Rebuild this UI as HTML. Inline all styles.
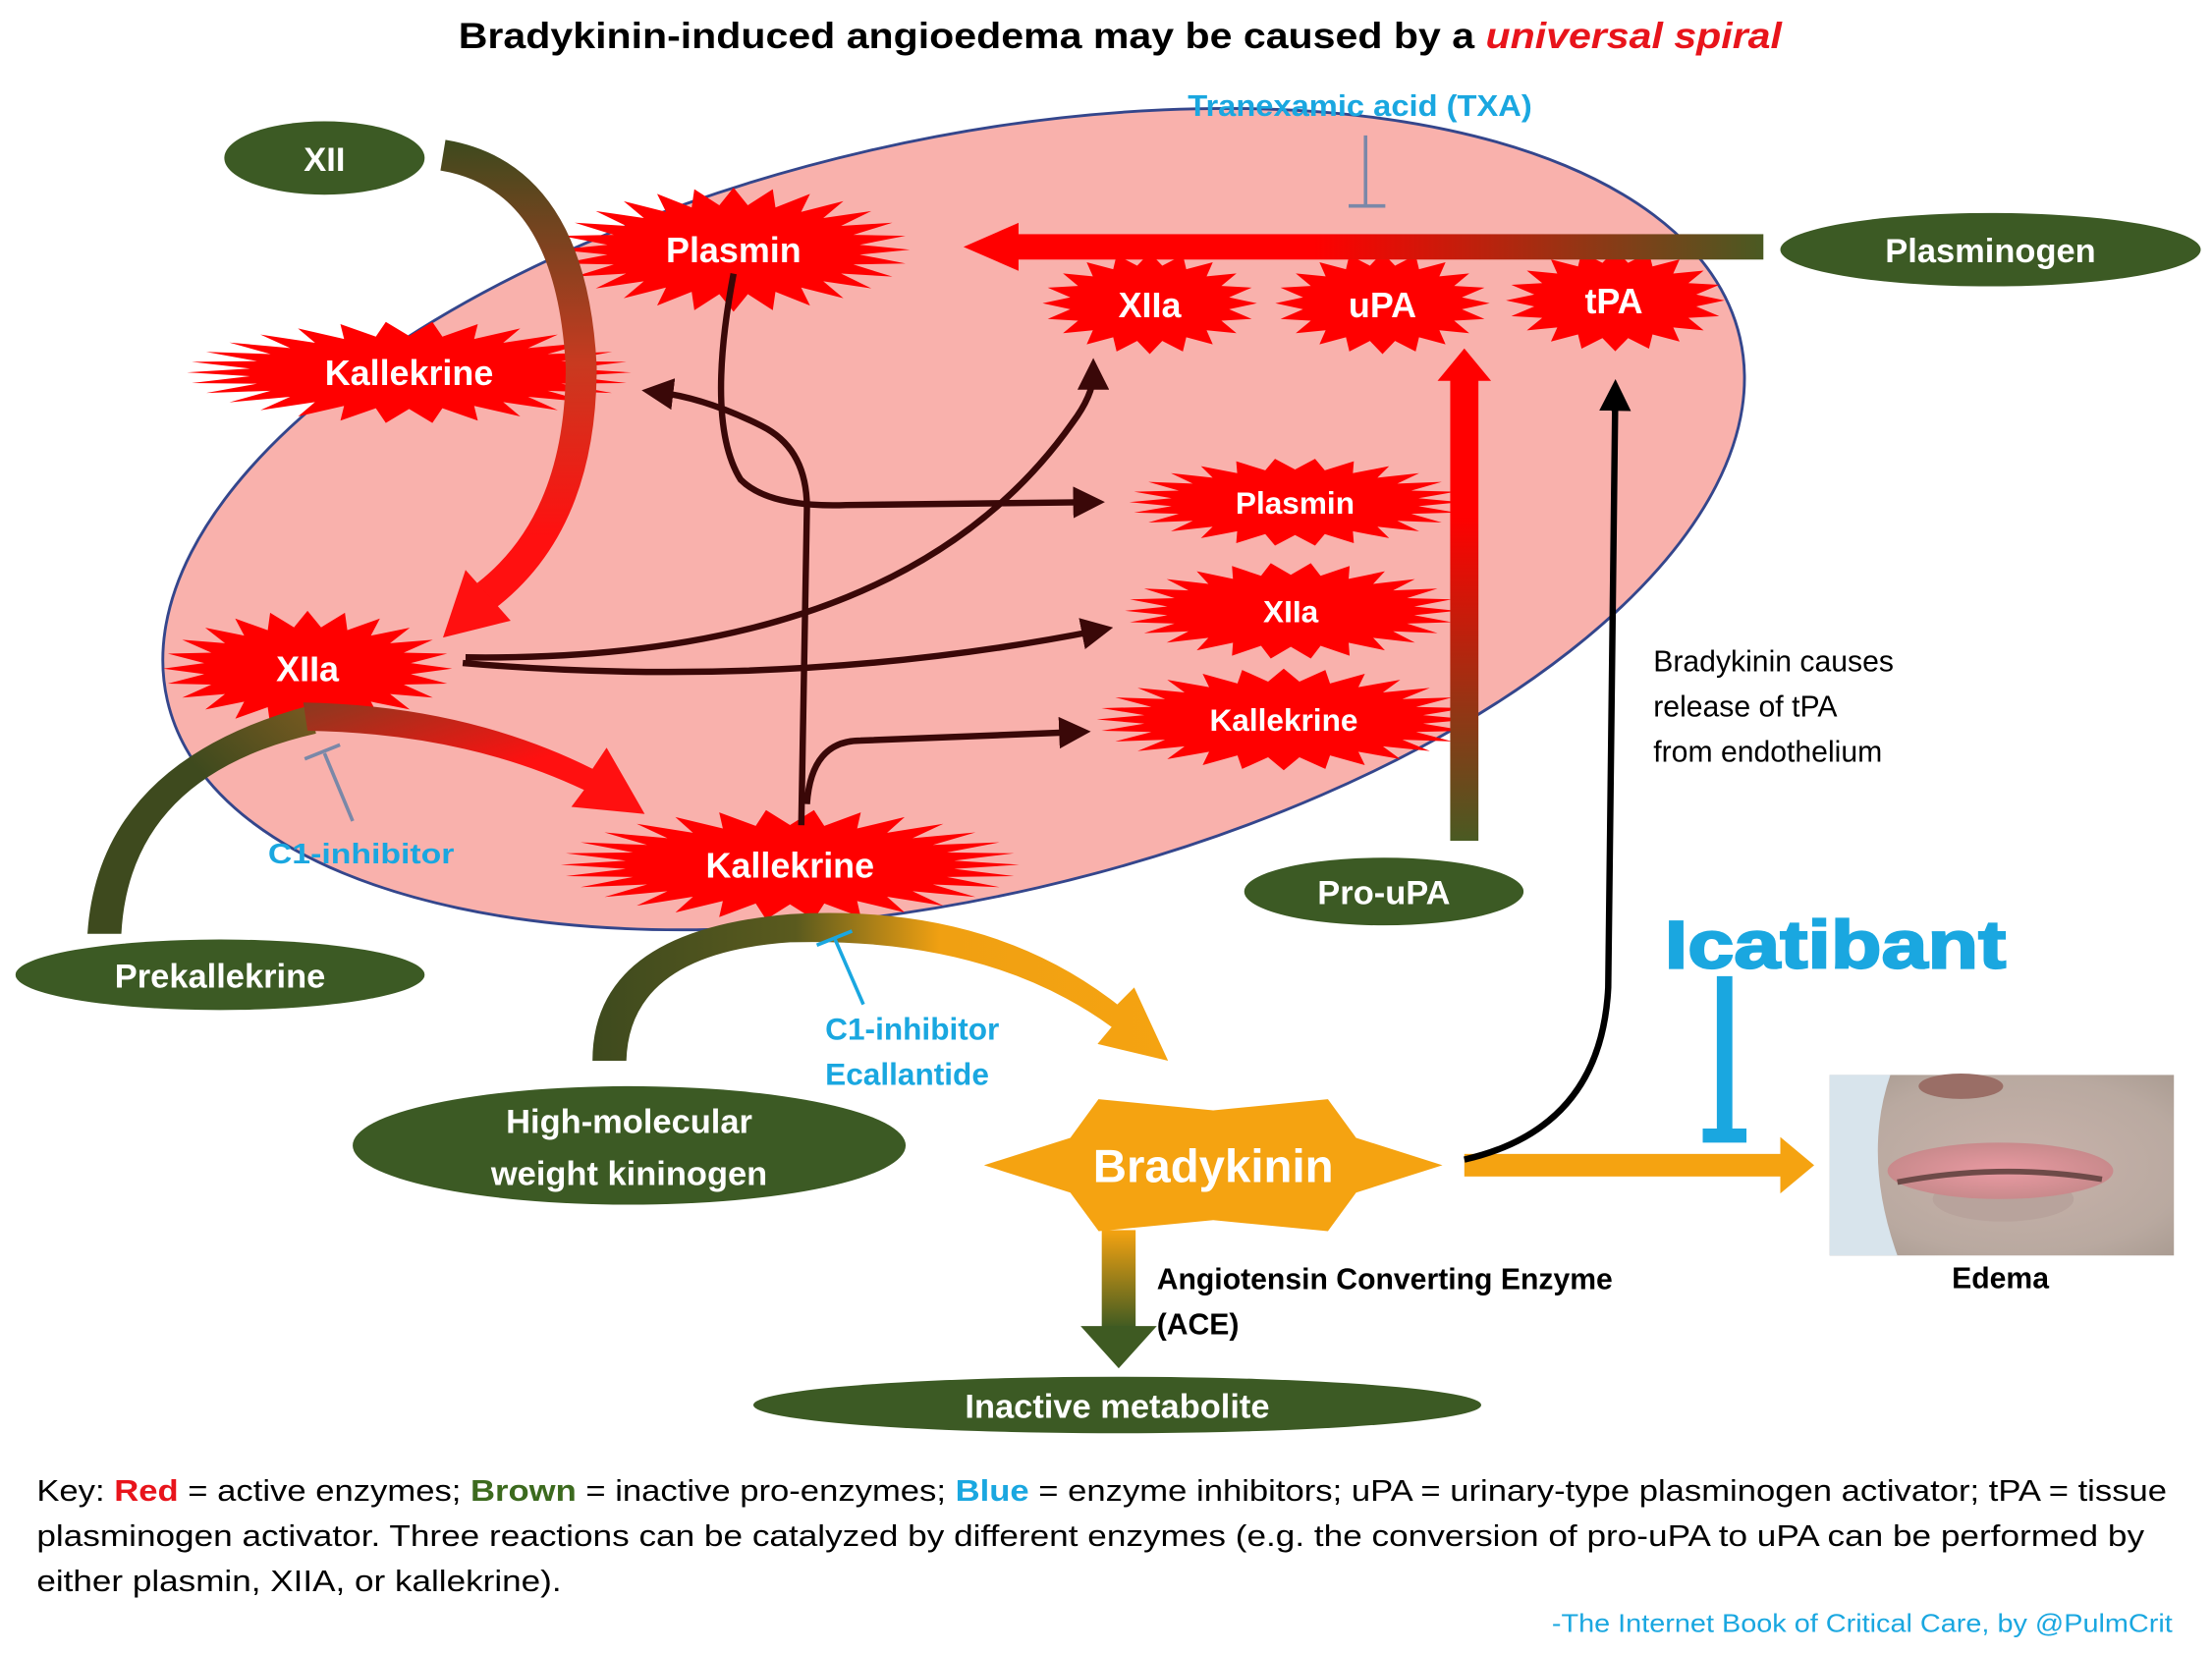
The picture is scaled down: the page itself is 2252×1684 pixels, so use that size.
<!DOCTYPE html>
<html><head><meta charset="utf-8"><style>
html,body{margin:0;padding:0;background:#fff;}
svg{display:block;}
text{font-family:"Liberation Sans",sans-serif;}
</style></head><body>
<svg id="s" width="2252" height="1684" viewBox="0 0 1568 1172.5" preserveAspectRatio="none" xmlns="http://www.w3.org/2000/svg">
<defs>
<marker id="ab" markerWidth="5" markerHeight="5" refX="2.5" refY="2.5" orient="auto" markerUnits="strokeWidth"><path d="M0,0 L5,2.5 L0,5 z" fill="#3a0808"/></marker>
<marker id="ak" markerWidth="5" markerHeight="5" refX="2.5" refY="2.5" orient="auto" markerUnits="strokeWidth"><path d="M0,0 L5,2.5 L0,5 z" fill="#000"/></marker>
<linearGradient id="gh" x1="1" y1="0" x2="0" y2="0"><stop offset="0" stop-color="#4a5a22"/><stop offset="0.6" stop-color="#ff0000"/></linearGradient>
<linearGradient id="gv" x1="0" y1="1" x2="0" y2="0"><stop offset="0" stop-color="#4a5a22"/><stop offset="0.7" stop-color="#ff0000"/></linearGradient>
<linearGradient id="gxii" gradientUnits="userSpaceOnUse" x1="0" y1="100" x2="0" y2="450"><stop offset="0" stop-color="#3e4a1e"/><stop offset="0.45" stop-color="#c83a20"/><stop offset="0.8" stop-color="#ff1010"/></linearGradient>
<linearGradient id="gpk" x1="0" y1="1" x2="1" y2="0"><stop offset="0" stop-color="#3e4a1e"/><stop offset="0.6" stop-color="#3e4a1e"/><stop offset="1" stop-color="#7a5a20"/></linearGradient>
<linearGradient id="gpk2" x1="0" y1="0" x2="1" y2="1"><stop offset="0" stop-color="#8a3a20"/><stop offset="0.6" stop-color="#ff1010"/></linearGradient>
<linearGradient id="ghm" gradientUnits="userSpaceOnUse" x1="420" y1="0" x2="830" y2="0"><stop offset="0" stop-color="#3e4a1e"/><stop offset="0.35" stop-color="#5a5a1e"/><stop offset="0.6" stop-color="#f0a012"/><stop offset="1" stop-color="#f5a311"/></linearGradient>
<linearGradient id="gace" x1="0" y1="0" x2="0" y2="1"><stop offset="0" stop-color="#f5a311"/><stop offset="1" stop-color="#3e5a22"/></linearGradient>
<radialGradient id="face" cx="0.55" cy="0.5" r="0.7"><stop offset="0" stop-color="#c9b3ab"/><stop offset="0.7" stop-color="#b9a9a0"/><stop offset="1" stop-color="#a89a90"/></radialGradient>
<radialGradient id="lip" cx="0.5" cy="0.5" r="0.5"><stop offset="0" stop-color="#e99aa2"/><stop offset="1" stop-color="#c98a8c"/></radialGradient>
</defs>

<text x="325" y="34" textLength="938" lengthAdjust="spacingAndGlyphs" font-size="26" font-weight="bold" fill="#000">Bradykinin-induced angioedema may be caused by a <tspan fill="#e8141b" font-style="italic">universal spiral</tspan></text>

<ellipse cx="676" cy="368" rx="572" ry="268" transform="rotate(-13 676 368)" fill="#f9b1ac" stroke="#34468c" stroke-width="2"/>

<g id="stars"></g>

<!-- XII arrow -->
<path d="M314,110 Q405,125 412,260 Q412,370 345,422" fill="none" stroke="url(#gxii)" stroke-width="22"/>
<path d="M362,440 L330,404 L314,452 Z" fill="#ff1010"/>

<!-- Plasminogen arrow -->
<rect x="720" y="166" width="530" height="18" fill="url(#gh)"/>
<path d="M722,158 L722,192 L683,175 Z" fill="#ff0000"/>

<!-- Pro-uPA arrow -->
<rect x="1028" y="268" width="20" height="328" fill="url(#gv)"/>
<path d="M1019,270 L1057,270 L1038,247 Z" fill="#ff0000"/>

<!-- Prekallekrine arrow -->
<path d="M62,662 Q70,540 220,500 L224,520 Q92,550 86,662 Z" fill="url(#gpk)"/>
<path d="M215,498 Q330,500 420,545 L430,530 L457,577 L405,572 L414,560 Q330,520 218,518 Z" fill="url(#gpk2)"/>

<!-- HMWK arrow -->
<path d="M420,752 Q420,660 560,648 Q700,640 792,712 L804,700 L828,752 L778,740 L788,728 Q700,664 560,668 Q446,676 444,752 Z" fill="url(#ghm)"/>

<!-- ACE arrow -->
<rect x="781" y="872" width="24" height="70" fill="url(#gace)"/>
<path d="M766,940 L820,940 L793,970 Z" fill="#3e5a22"/>

<!-- Brady to edema -->
<rect x="1038" y="818" width="225" height="16" fill="#f5a311"/>
<path d="M1262,806 L1262,846 L1286,826 Z" fill="#f5a311"/>

<!-- black line tPA -->
<path d="M1038,822 Q1135,800 1140,700 L1145,280" fill="none" stroke="#000" stroke-width="4.5" marker-end="url(#ak)"/>

<!-- brown arrows -->
<g fill="none" stroke="#3a0808" stroke-width="4.5">
<path d="M520,194 Q500,300 525,340 Q545,360 600,358 L772,356" marker-end="url(#ab)"/>
<path d="M568,585 L572,360 Q572,318 540,302 Q500,282 466,278" marker-end="url(#ab)"/>
<path d="M328,470 Q560,490 778,447" marker-end="url(#ab)"/>
<path d="M330,466 Q640,470 760,300 Q775,280 775,265" marker-end="url(#ab)"/>
<path d="M572,570 Q575,525 610,525 L762,519" marker-end="url(#ab)"/>
</g>

<!-- green ellipses -->
<g fill="#3c5a24">
<ellipse cx="230" cy="112" rx="71" ry="26"/>
<ellipse cx="1411" cy="177" rx="149" ry="26"/>
<ellipse cx="156" cy="691" rx="145" ry="25"/>
<ellipse cx="981" cy="632" rx="99" ry="24"/>
<ellipse cx="446" cy="812" rx="196" ry="42"/>
<ellipse cx="792" cy="996" rx="258" ry="20"/>
</g>
<g fill="#fff" font-weight="bold" text-anchor="middle" font-size="24">
<text x="230" y="121">XII</text>
<text x="1411" y="186">Plasminogen</text>
<text x="156" y="700">Prekallekrine</text>
<text x="981" y="641">Pro-uPA</text>
<text x="446" y="803">High-molecular</text>
<text x="446" y="840">weight kininogen</text>
<text x="792" y="1005">Inactive metabolite</text>
</g>

<!-- star labels -->
<g fill="#fff" font-weight="bold" text-anchor="middle">
<text x="520" y="186" font-size="25">Plasmin</text>
<text x="290" y="273" font-size="25">Kallekrine</text>
<text x="815" y="225" font-size="25">XIIa</text>
<text x="980" y="225" font-size="25">uPA</text>
<text x="1144" y="222" font-size="25">tPA</text>
<text x="918" y="364" font-size="22">Plasmin</text>
<text x="915" y="441" font-size="22">XIIa</text>
<text x="910" y="518" font-size="22">Kallekrine</text>
<text x="218" y="483" font-size="25">XIIa</text>
<text x="560" y="622" font-size="25">Kallekrine</text>
<text x="860" y="838" font-size="33">Bradykinin</text>
</g>

<!-- inhibitors -->
<text x="842" y="82" textLength="244" lengthAdjust="spacingAndGlyphs" font-size="21" font-weight="bold" fill="#1aa7e0">Tranexamic acid (TXA)</text>
<g stroke="#7a88a8" stroke-width="2.5">
<line x1="968" y1="96" x2="968" y2="146"/><line x1="956" y1="146" x2="982" y2="146"/>
<line x1="250" y1="582" x2="230" y2="534"/><line x1="216" y1="538" x2="241" y2="528"/>
</g>
<text x="190" y="612" textLength="132" lengthAdjust="spacingAndGlyphs" font-size="20" font-weight="bold" fill="#1aa7e0">C1-inhibitor</text>
<g stroke="#1aa7e0" stroke-width="2.5">
<line x1="612" y1="712" x2="592" y2="666"/><line x1="579" y1="670" x2="604" y2="660"/>
</g>
<text x="585" y="737" font-size="22" font-weight="bold" fill="#1aa7e0">C1-inhibitor</text>
<text x="585" y="769" font-size="22" font-weight="bold" fill="#1aa7e0">Ecallantide</text>

<text x="1180" y="686" textLength="242" lengthAdjust="spacingAndGlyphs" font-size="48" font-weight="bold" fill="#1aa7e0" stroke="#1aa7e0" stroke-width="1.5">Icatibant</text>
<rect x="1217" y="692" width="11" height="112" fill="#1aa7e0"/>
<rect x="1207" y="800" width="31" height="10" fill="#1aa7e0"/>

<text font-size="21" fill="#000"><tspan x="1172" y="476">Bradykinin causes</tspan><tspan x="1172" y="508">release of tPA</tspan><tspan x="1172" y="540">from endothelium</tspan></text>
<text font-size="21" font-weight="bold" fill="#000"><tspan x="820" y="914">Angiotensin Converting Enzyme</tspan><tspan x="820" y="946">(ACE)</tspan></text>

<!-- photo -->
<rect x="1297" y="762" width="244" height="128" fill="url(#face)"/>
<path d="M1297,762 L1340,762 Q1320,820 1345,890 L1297,890 Z" fill="#d8e4ec"/>
<ellipse cx="1390" cy="770" rx="30" ry="9" fill="#9a6e66"/>
<ellipse cx="1420" cy="850" rx="50" ry="16" fill="#b8a39c"/>
<ellipse cx="1418" cy="830" rx="80" ry="20" fill="url(#lip)"/>
<path d="M1345,838 Q1418,824 1490,836" stroke="#6e4a48" stroke-width="4" fill="none"/>
<text x="1418" y="913" text-anchor="middle" font-size="21" font-weight="bold">Edema</text>

<g font-size="21" fill="#000">
<text x="26" y="1064" textLength="1510" lengthAdjust="spacingAndGlyphs">Key:  <tspan fill="#e8141b" font-weight="bold">Red</tspan> = active enzymes; <tspan fill="#3c6a1e" font-weight="bold">Brown</tspan> = inactive pro-enzymes; <tspan fill="#1aa7e0" font-weight="bold">Blue</tspan> = enzyme inhibitors; uPA = urinary-type plasminogen activator; tPA = tissue</text>
<text x="26" y="1096" textLength="1494" lengthAdjust="spacingAndGlyphs">plasminogen activator.  Three reactions can be catalyzed by different enzymes (e.g.  the conversion of pro-uPA to uPA can be performed by</text>
<text x="26" y="1128" textLength="372" lengthAdjust="spacingAndGlyphs">either plasmin, XIIA, or kallekrine).</text>
</g>
<text x="1100" y="1157" textLength="440" lengthAdjust="spacingAndGlyphs" font-size="18" fill="#1aa7e0">-The Internet Book of Critical Care, by @PulmCrit</text>
</svg>
<script>
(function(){
var g=document.getElementById('stars');
function star(cx,cy,w,h,n,inner,col){
 var pts=[];for(var i=0;i<2*n;i++){var a=Math.PI*i/n;var r=(i%2?inner:1);pts.push((cx+Math.cos(a)*w/2*r).toFixed(1)+','+(cy+Math.sin(a)*h/2*r).toFixed(1));}
 var p=document.createElementNS('http://www.w3.org/2000/svg','polygon');p.setAttribute('points',pts.join(' '));p.setAttribute('fill',col);g.appendChild(p);}
var R='#ff0000';
star(520,177,250,88,28,0.72,R);
star(290,264,315,72,30,0.72,R);
star(815,215,152,72,20,0.75,R);
star(980,215,152,72,20,0.75,R);
star(1145,213,155,72,20,0.75,R);
star(918,356,235,62,26,0.75,R);
star(915,433,235,68,26,0.75,R);
star(910,510,265,72,28,0.75,R);
star(218,474,205,82,24,0.72,R);
star(560,613,325,78,30,0.72,R);
star(860,826,325,108,6,0.72,'#f5a311');
})();
</script>
</body></html>
